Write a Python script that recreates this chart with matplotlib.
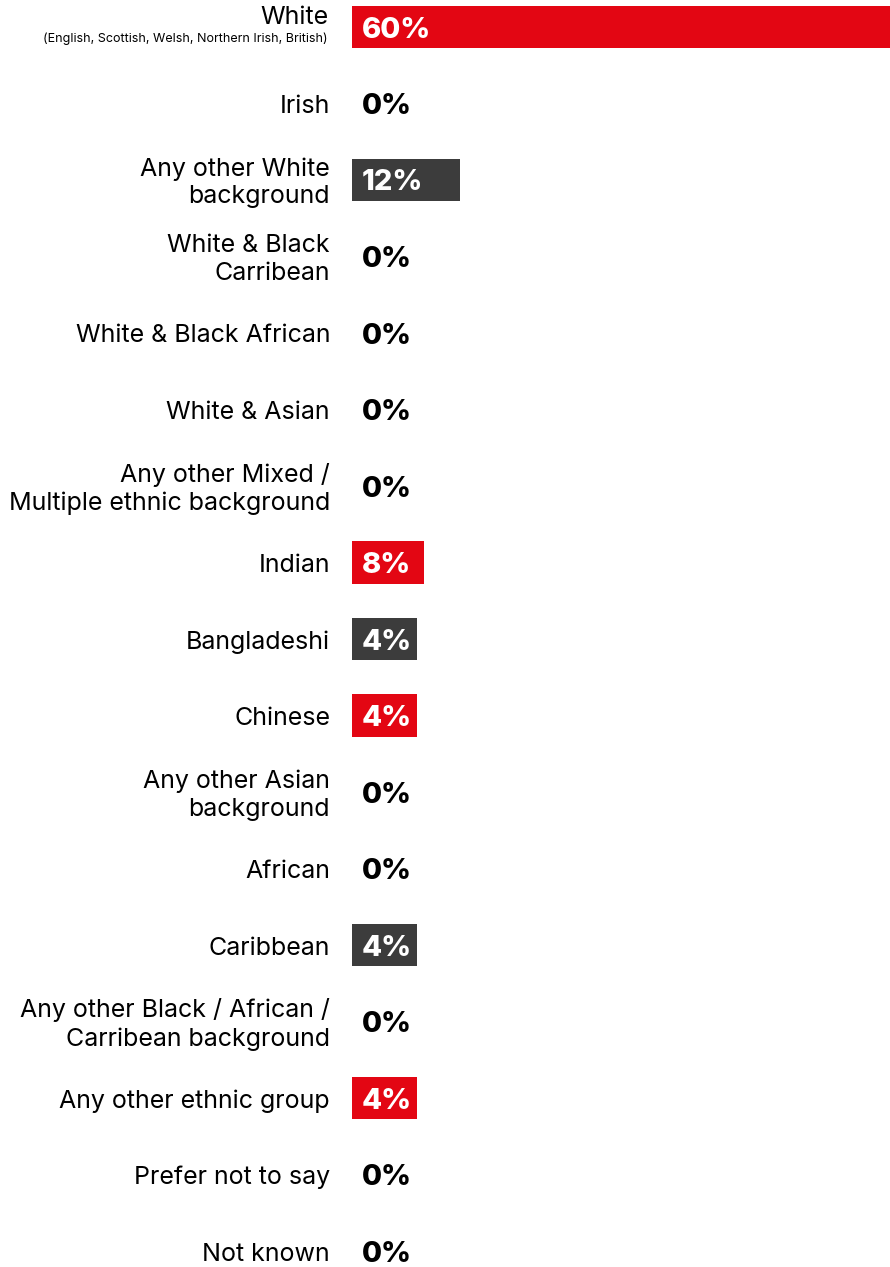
import numpy as np
import matplotlib.pyplot as plt

plt.rcParams['font.family'] = ['Inter', 'DejaVu Sans']

# data
groups = ["White", "Irish", "Any other White\nbackground", "White & Black\nCarribean",
          "White & Black African", "White & Asian",
          "Any other Mixed /\nMultiple ethnic background", "Indian", "Bangladeshi",
          "Chinese", "Any other Asian\nbackground", "African", "Caribbean",
          "Any other Black / African /\nCarribean background", "Any other ethnic group",
          "Prefer not to say", "Not known"]
values = [60, 0, 12, 0, 0, 0, 0, 8, 4, 4, 0, 0, 4, 0, 4, 0, 0]
white_note = "(English, Scottish, Welsh, Northern Irish, British)"

red = "#e30613"
grey = "#3c3c3c"

fig = plt.figure(figsize=(8.9, 12.67), dpi=100)
ax = fig.add_axes([352 / 890, 0, 1 - 352 / 890, 1])

y = np.arange(len(groups))
# bars need room for their label, so give small values a minimum length
shown = [max(v, 7.2) if v > 0 else 0 for v in values]
cols = []
k = 0
for v in values:
    if v > 0:
        cols.append(red if k % 2 == 0 else grey)
        k += 1
    else:
        cols.append("none")
ax.barh(y, shown, height=0.56, color=cols)

ax.set_xlim(0, 60)
ax.set_ylim(16 + 16 / 76.5, -27 / 76.5)
ax.axis("off")

for i, (g, v) in enumerate(zip(groups, values)):
    if i == 0:
        ax.annotate(g, xy=(0, i), xytext=(-24, 10), textcoords="offset pixels",
                    ha="right", va="center", fontsize=18, annotation_clip=False)
        ax.annotate(white_note, xy=(0, i), xytext=(-24, -12), textcoords="offset pixels",
                    ha="right", va="center", fontsize=9, annotation_clip=False)
    else:
        ax.annotate(g, xy=(0, i), xytext=(-22, -3), textcoords="offset pixels",
                    ha="right", va="center", fontsize=18, linespacing=1.25,
                    annotation_clip=False)
    ax.annotate(f"{v}%", xy=(0, i), xytext=(10, -3), textcoords="offset pixels",
                ha="left", va="center", fontsize=21, fontweight="heavy",
                color="white" if v > 0 else "black")

fig.savefig("out.png", dpi=100)
